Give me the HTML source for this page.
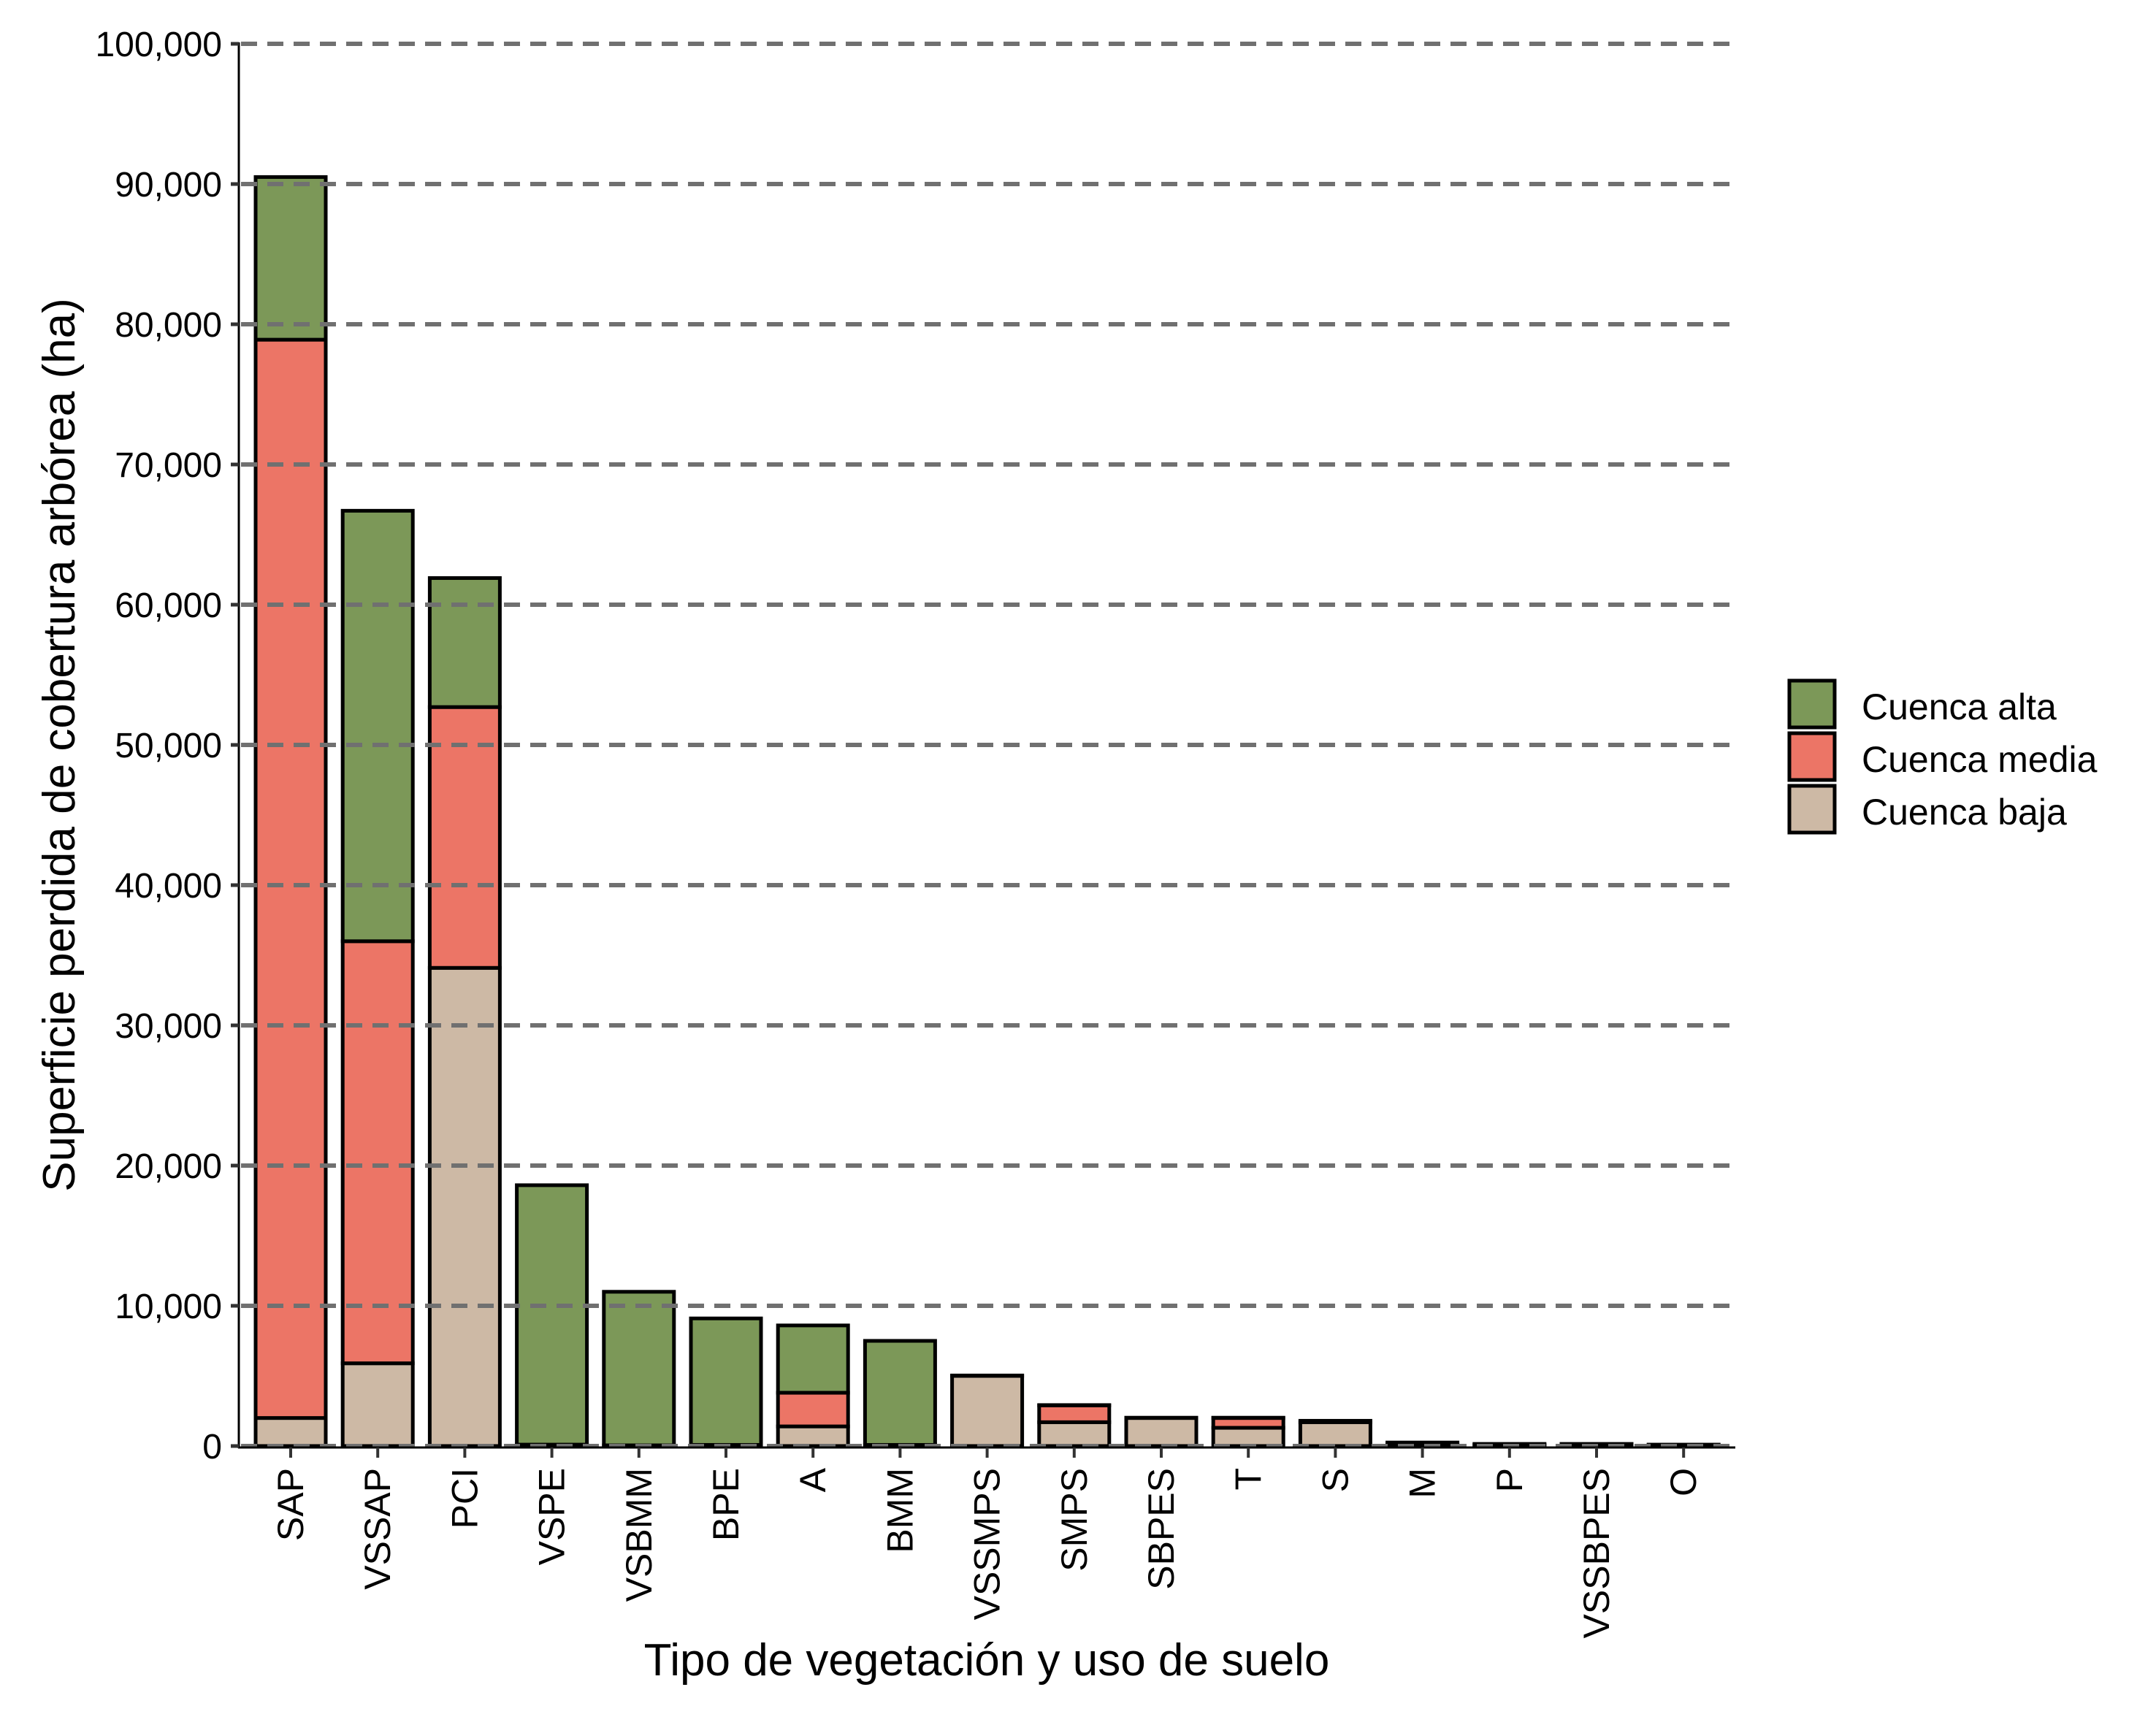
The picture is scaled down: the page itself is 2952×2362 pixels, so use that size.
<!DOCTYPE html>
<html><head><meta charset="utf-8"><style>body{margin:0;background:#fff}svg{display:block}</style></head>
<body>
<svg xmlns="http://www.w3.org/2000/svg" width="2952" height="2362" viewBox="0 0 2952 2362" font-family="Liberation Sans, Arial, sans-serif">
<rect width="2952" height="2362" fill="#fff"/>
<g id="bars" stroke="#000" stroke-width="5"></g>
<g id="grid" stroke="#707070" stroke-width="6" stroke-dasharray="22 14"></g>
<line x1="327" y1="58" x2="327" y2="1983" stroke="#000" stroke-width="3"/>
<line x1="326" y1="1982" x2="2376" y2="1982" stroke="#000" stroke-width="3"/>
<g id="yt" font-size="48" text-anchor="end"></g>
<g id="xt" font-size="50"></g>
<text x="1351" y="2294" font-size="62" text-anchor="middle">Tipo de vegetación y uso de suelo</text>
<text transform="translate(102,1020) rotate(-90)" font-size="62" text-anchor="middle">Superficie perdida de cobertura arbórea (ha)</text>
<g stroke="#000" stroke-width="5">
<rect x="2450" y="932" width="62" height="64" fill="#7c9858"/>
<rect x="2450" y="1004" width="62" height="64" fill="#ec7566"/>
<rect x="2450" y="1076" width="62" height="64" fill="#cdb9a5"/>
</g>
<g font-size="50">
<text x="2549" y="985">Cuenca alta</text>
<text x="2549" y="1057">Cuenca media</text>
<text x="2549" y="1129">Cuenca baja</text>
</g>
<script>
const NS="http://www.w3.org/2000/svg";
const y0=1980, k=0.0192;
const Y=v=>y0-v*k;
const grid=document.getElementById('grid'), yt=document.getElementById('yt'), xt=document.getElementById('xt'), bars=document.getElementById('bars');
function el(t,a,p){const e=document.createElementNS(NS,t);for(const n in a)e.setAttribute(n,a[n]);p.appendChild(e);return e;}
for(let i=0;i<=10;i++){const y=Y(i*10000);
 el('line',{x1:330,y1:y,x2:2376,y2:y},grid);
 el('line',{x1:316,y1:y,x2:327,y2:y,stroke:'#333','stroke-width':5},yt);
 const t=el('text',{x:304,y:y+17},yt);t.textContent=i==0?'0':(i*10).toLocaleString('en-US')+',000';}
const d=[["SAP",2000,78900,90500],["VSSAP",5900,36000,66700],["PCI",34100,52700,61900],["VSPE",100,100,18600],["VSBMM",50,50,11000],["BPE",80,80,9100],["A",1400,3800,8600],["BMM",80,80,7500],["VSSMPS",5000,5000,5030],["SMPS",1700,2900,2920],["SBPES",2000,2000,2020],["T",1300,2000,2020],["S",1700,1700,1800],["M",100,100,250],["P",80,80,150],["VSSBPES",80,80,150],["O",60,60,100]];
d.forEach((r,i)=>{const c=398+119.2*i, x=c-48, w=96;
 const segs=[[0,r[1],'#cdb9a5'],[r[1],r[2],'#ec7566'],[r[2],r[3],'#7c9858']];
 segs.forEach(s=>{if(s[1]>s[0])el('rect',{x:x,y:Y(s[1]),width:w,height:(s[1]-s[0])*k,fill:s[2]},bars);});
 el('line',{x1:c,y1:1982,x2:c,y2:1996,stroke:'#333','stroke-width':4},xt);
 const t=el('text',{transform:`translate(${c+17},2010) rotate(-90)`,'text-anchor':'end'},xt);t.textContent=r[0];});
</script>
</svg>
</body></html>
